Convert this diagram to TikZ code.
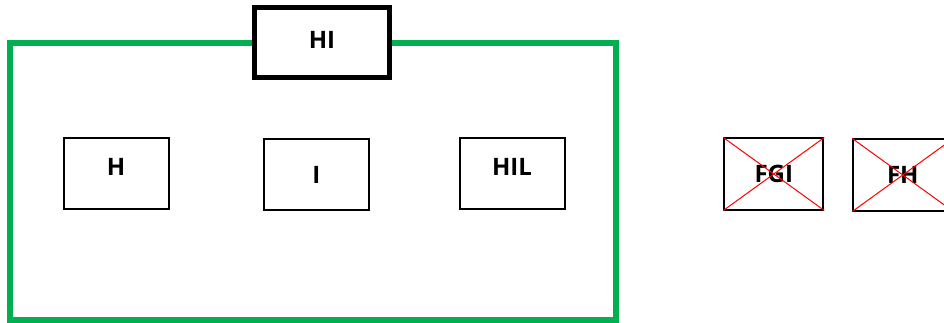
\documentclass[tikz,border=0pt]{standalone}
\usepackage{fontspec}
\setmainfont{Open Sans}
\usetikzlibrary{positioning}
\definecolor{framegreen}{RGB}{0,176,80}

\begin{document}
\begin{tikzpicture}[
  x=1pt, y=-1pt,
  box/.style={rectangle,draw,line width=2pt,minimum width=105pt,minimum height=71pt,inner sep=0pt,font=\bfseries\fontsize{24}{28}\selectfont},
  raised/.style={text depth=13pt},
  crossed/.style={box,minimum width=99pt},
  frame/.style={rectangle,draw=framegreen,line width=5.5pt,minimum width=606pt,minimum height=277pt,inner sep=0pt},
  cross/.style={red,line width=1pt}
]
  \useasboundingbox (0,0) rectangle (944,323);

  % Frame and its title
  \node[frame] (G) at (313,181.5) {};
  \node[box, fill=white, line width=5pt, minimum width=135pt, minimum height=70pt, text depth=6pt] (HI) at (322,43) {HI};

  % Nodes inside the frame
  \node[box, raised] (H) at (116,173.7) {H};
  \node[box] (I) at (316.3,174.7) {I};
  \node[box, raised] (HIL) at (512,173.7) {HIL};

  % Crossed-out nodes
  \node[crossed] (FGI) at (773.8,174) {FGI};
  \node[crossed] (FH) at (902.8,175) {FH};
  \draw[cross] (FGI.north west) -- (FGI.south east);
  \draw[cross] (FGI.south west) -- (FGI.north east);
  \draw[cross] (FH.north west) -- (FH.south east);
  \draw[cross] (FH.south west) -- (FH.north east);
\end{tikzpicture}
\end{document}
